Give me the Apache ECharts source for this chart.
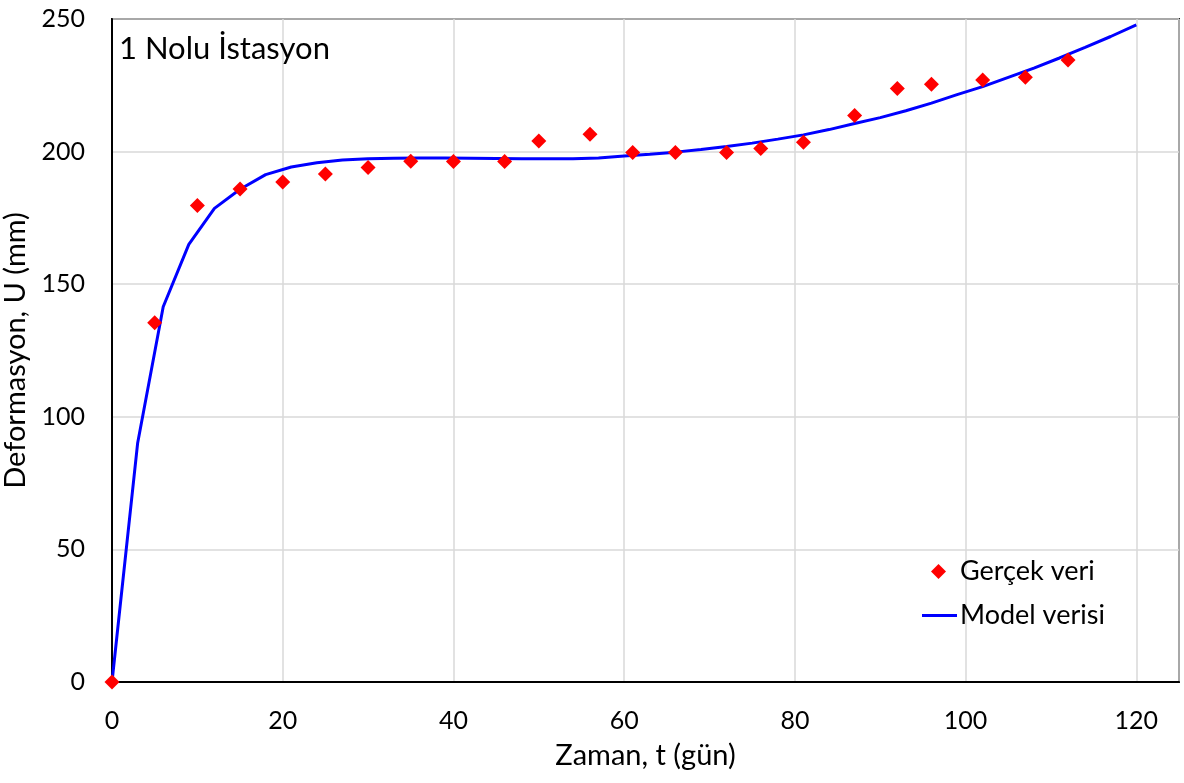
<!DOCTYPE html>
<html>
<head>
<meta charset="utf-8">
<script src="https://cdn.jsdelivr.net/npm/echarts@6/dist/echarts.min.js"></script>
<style>
  html, body { margin: 0; padding: 0; background: #fff; }
  #chart { width: 1184px; height: 783px; }
</style>
</head>
<body>
<div id="chart"></div>
<script>
// measured data (Gerçek veri)
const obsT = [0, 5, 10, 15, 20, 25, 30, 35, 40, 46, 50, 56, 61, 66, 72, 76, 81, 87, 92, 96, 102, 107, 112]
const obsU = [0, 135.5, 179.7, 185.9, 188.5, 191.6, 194.0, 196.4, 196.3, 196.3, 204.0, 206.5, 199.7, 199.7, 199.7, 201.2, 203.5, 213.6, 223.8, 225.4, 227.0, 228.0, 234.5]

// model curve (Model verisi)
const modelT = [0, 3, 6, 9, 12, 15, 18, 21, 24, 27, 30, 33, 36, 39, 42, 45, 48, 51, 54, 57, 60,
  63, 66, 69, 72, 75, 78, 81, 84, 87, 90, 93, 96, 99, 102, 105, 108, 111, 114, 117, 120]
const modelU = [0, 90, 141.5, 165, 178.6, 185.8, 191.3, 194.2, 195.8, 196.8, 197.3, 197.5, 197.6, 197.6, 197.5, 197.4, 197.3, 197.3, 197.3, 197.6, 198.3,
  199.0, 199.8, 200.8, 201.9, 203.2, 204.7, 206.3, 208.3, 210.6, 212.8, 215.4, 218.3, 221.5, 224.5, 228.0, 231.5, 235.3, 239.3, 243.4, 247.8]

const xTicks = { min: 0, max: 125, step: 20 }
const yTicks = { min: 0, max: 250, step: 50 }

const font = 'Lato, "Open Sans", sans-serif'
const chart = echarts.init(document.getElementById('chart'))

chart.setOption({
  animation: false,
  textStyle: { fontFamily: font },
  title: {
    text: '1 Nolu İstasyon',
    left: 114, top: 28,
    textStyle: { fontFamily: font, fontSize: 31, fontWeight: 'normal', color: '#000' }
  },
  legend: [
    {
      left: 931, top: 558, padding: 0,
      itemWidth: 15, itemHeight: 15,
      textStyle: { fontFamily: font, fontSize: 27, color: '#000', padding: [0, 0, 0, 9] },
      data: [{ name: 'Gerçek veri', icon: 'diamond' }]
    },
    {
      left: 922, top: 602, padding: 0,
      itemWidth: 35, itemHeight: 3,
      textStyle: { fontFamily: font, fontSize: 27, color: '#000', padding: [0, 0, 0, -2] },
      data: [{ name: 'Model verisi', icon: 'rect' }]
    }
  ],
  grid: {
    left: 112, top: 19, right: 5, bottom: 101,
    outerBoundsMode: 'none',
    show: true, borderColor: '#1a1a1a', borderWidth: 2
  },
  xAxis: {
    type: 'value',
    min: xTicks.min, max: xTicks.max, interval: xTicks.step,
    name: 'Zaman, t (gün)', nameLocation: 'middle', nameGap: 59,
    nameTextStyle: { fontFamily: font, fontSize: 29, color: '#000' },
    axisLine: { show: true, lineStyle: { color: '#000', width: 2 } },
    axisTick: { show: false },
    axisLabel: { fontFamily: font, fontSize: 25, color: '#000', margin: 26, showMaxLabel: false },
    splitLine: { show: true, lineStyle: { color: '#d9d9d9', width: 1.5 } }
  },
  yAxis: {
    type: 'value',
    min: yTicks.min, max: yTicks.max, interval: yTicks.step,
    name: 'Deformasyon, U (mm)', nameLocation: 'middle', nameGap: 76,
    nameTextStyle: { fontFamily: font, fontSize: 29, color: '#000' },
    axisLine: { show: true, lineStyle: { color: '#000', width: 2 } },
    axisTick: { show: false },
    axisLabel: { fontFamily: font, fontSize: 25, color: '#000', margin: 27 },
    splitLine: { show: true, lineStyle: { color: '#d9d9d9', width: 1.5 } }
  },
  series: [
    {
      name: 'Model verisi',
      type: 'line',
      data: modelT.map((t, i) => [t, modelU[i]]),
      symbol: 'none',
      lineStyle: { color: '#0000ff', width: 3 },
      itemStyle: { color: '#0000ff' },
      z: 2
    },
    {
      name: 'Gerçek veri',
      type: 'scatter',
      data: obsT.map((t, i) => [t, obsU[i]]),
      symbol: 'diamond',
      symbolSize: 15,
      itemStyle: { color: '#ff0000', opacity: 1 },
      z: 3
    }
  ]
})
</script>
</body>
</html>
